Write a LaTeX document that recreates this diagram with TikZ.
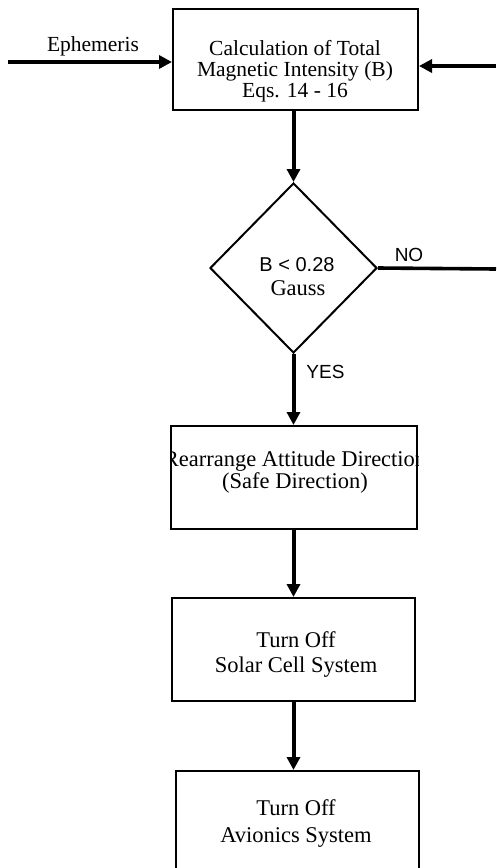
\documentclass[tikz,border=0pt]{standalone}
\usepackage{fontspec}
\setmainfont{Liberation Serif}
\newfontfamily\arialf{Liberation Sans}
\usetikzlibrary{shapes.geometric,arrows.meta}
\tikzset{
  boxstyle/.style={draw, line width=2pt, rectangle, inner sep=0pt},
  flowarrow/.style={line width=4pt, -{Triangle[length=13pt,width=13pt]}},
  txt/.style={font=\fontsize{22.5}{25}\selectfont, align=center, inner sep=0pt},
  stxt/.style={font=\arialf\fontsize{19}{20}\selectfont, inner sep=0pt},
}
\begin{document}
\begin{tikzpicture}[x=1pt,y=-1pt]
\useasboundingbox (0,0) rectangle (496,868);
% boxes
\node[boxstyle, minimum width=245pt, minimum height=101pt] (calc) at (295.5,59.5) {};
\node[draw, line width=2pt, diamond, shape aspect=0.98, minimum width=167pt, minimum height=170pt, inner sep=0pt] (dia) at (293.5,268) {};
\node[boxstyle, minimum width=246pt, minimum height=103pt] (rearr) at (294,477.5) {};
\node[boxstyle, minimum width=243pt, minimum height=103pt] (solar) at (293.5,649.5) {};
\node[boxstyle, minimum width=243pt, minimum height=106pt] (avion) at (297.5,824) {};
% texts
\node[txt, font=\fontsize{21.5}{21}\selectfont] (calct) at (295,71) {Calculation of Total\\Magnetic Intensity (B)\\Eqs. 14 - 16};
\node[stxt, font=\arialf\fontsize{20}{20}\selectfont] (diat1) at (297,265) {B < 0.28};
\node[txt] (diat2) at (298,288.5) {Gauss};
\begin{scope}
\clip (rearr.north west) rectangle (rearr.south east);
\node[txt, font=\fontsize{22.5}{22}\selectfont] (rearrt) at (295,472.5) {Rearrange Attitude Direction\\(Safe Direction)};
\end{scope}
\node[txt] (solart) at (296,654.5) {Turn Off\\Solar Cell System};
\node[txt, font=\fontsize{22.5}{27}\selectfont] (aviont) at (296,823.5) {Turn Off\\Avionics System};
% inputs
\coordinate (eL) at (8,62);
\coordinate (eR) at (496,66);
\coordinate (noEnd) at (496,269);
\draw[flowarrow] (eL) -- (eL -| calc.west);
\node[txt, font=\fontsize{21.5}{22}\selectfont] (ephl) at (93,46) {Ephemeris};
\draw[flowarrow] (eR) -- (eR -| calc.east);
% flow
\draw[flowarrow] (calc.south -| dia.north) -- (dia.north);
\draw[line width=3.6pt] (dia.east) -- (noEnd);
\node[stxt] (nol) at (409,255) {NO};
\draw[flowarrow] (dia.south) -- (dia.south |- rearr.north);
\node[stxt] (yesl) at (325.5,372) {YES};
\draw[flowarrow] (rearr.south -| dia.south) -- (dia.south |- solar.north);
\draw[flowarrow] (solar.south -| dia.south) -- (dia.south |- avion.north);
\end{tikzpicture}
\end{document}
